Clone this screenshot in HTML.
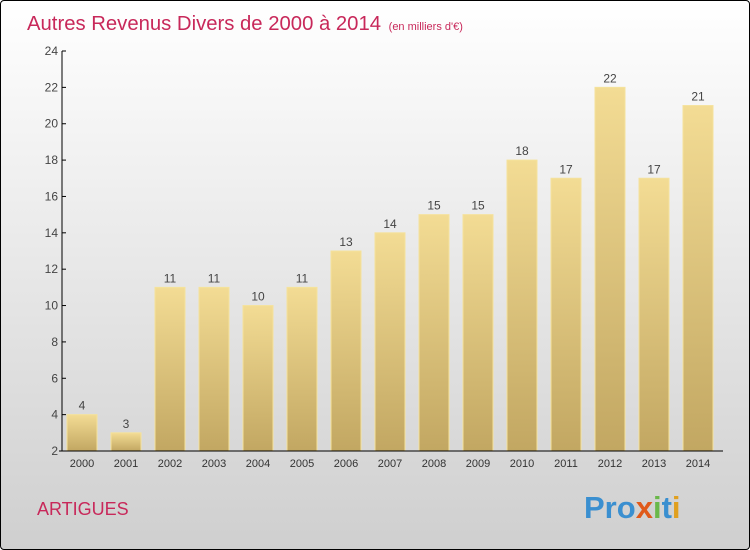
<!DOCTYPE html>
<html><head><meta charset="utf-8"><style>
body{margin:0;}
#c{position:relative;width:748px;height:548px;border:1px solid #000;border-radius:4px;overflow:hidden;background:linear-gradient(#ffffff,#cfcfcf);font-family:"Liberation Sans",sans-serif;}
</style></head><body>
<div id="c">
<svg width="748" height="548" id="s">
<defs><linearGradient id="g" x1="0" y1="0" x2="0" y2="1"><stop offset="0" stop-color="#f3dc94"/><stop offset="1" stop-color="#c2a762"/></linearGradient></defs>
<text x="26" y="29" font-size="20.3" fill="#c8285a">Autres Revenus Divers de 2000 à 2014 <tspan font-size="11" dx="2">(en milliers d'€)</tspan></text>
<text x="36" y="514" font-size="18" fill="#c8285a">ARTIGUES</text>
<text x="583" y="517" font-size="31" font-weight="bold"><tspan fill="#3a8fd0">Pro</tspan><tspan fill="#e05a1a">x</tspan><tspan fill="#6ab84a">i</tspan><tspan fill="#3a8fd0">t</tspan><tspan fill="#e0a020">i</tspan></text>
<g id="plot"></g>
</svg></div>
<script>
const years=["2000","2001","2002","2003","2004","2005","2006","2007","2008","2009","2010","2011","2012","2013","2014"];
const values=[4,3,11,11,10,11,13,14,15,15,18,17,22,17,21];
const ticks=[2,4,6,8,10,12,14,16,18,20,22,24];
const NS="http://www.w3.org/2000/svg";
const p=document.getElementById('plot');
const y=v=>450-(v-2)*400/22;
const x=i=>81+i*44;
function el(t,a){const e=document.createElementNS(NS,t);for(const k in a)e.setAttribute(k,a[k]);p.appendChild(e);return e;}
years.forEach((yr,i)=>{
 const r=el('rect',{x:x(i)-15,y:y(values[i]),width:30,height:450-y(values[i]),fill:'url(#g)',stroke:'#f5e29c','stroke-width':1});
 
 
 const t=el('text',{x:x(i),y:y(values[i])-5,'text-anchor':'middle','font-size':12,fill:'#444'});t.textContent=values[i];
 
 
 const l=el('text',{x:x(i),y:466,'text-anchor':'middle','font-size':11,fill:'#333'});l.textContent=yr;
 
 
});
ticks.forEach(v=>{
 const tk=el('line',{x1:61,x2:65,y1:y(v),y2:y(v),stroke:'#000'});
 
 
 const t=el('text',{x:57,y:y(v)+4,'text-anchor':'end','font-size':12,fill:'#444'});t.textContent=v;
 
 
});
const ya=el('line',{x1:61,x2:61,y1:50,y2:450,stroke:'#000'});


const xa=el('line',{x1:58,x2:722,y1:450,y2:450,stroke:'#000'});


</script>
</body></html>
